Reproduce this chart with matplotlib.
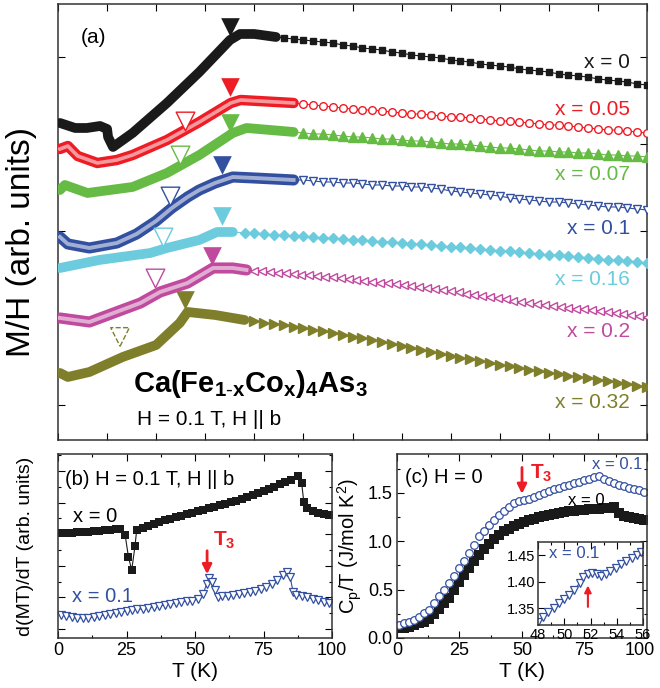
import numpy as np
import matplotlib
matplotlib.use("Agg")
import matplotlib.pyplot as plt
import matplotlib.transforms as mtransforms
from matplotlib.ticker import MultipleLocator, FixedLocator, FormatStrFormatter, NullFormatter

plt.rcParams['font.family'] = ['Liberation Sans', 'DejaVu Sans']
plt.rcParams['mathtext.fontset'] = 'custom'
plt.rcParams['mathtext.rm'] = 'Liberation Sans'
plt.rcParams['mathtext.it'] = 'Liberation Sans:italic'
plt.rcParams['mathtext.bf'] = 'Liberation Sans:bold'

# ---------------- panel (a): M/H vs T, curves offset (arb. units) ----------------
# dense low-T part (overlapping markers -> thick band)
t0_dense = [1, 8.7, 14.7, 21.4, 25, 25.5, 28, 38, 55.5, 72, 87.6, 92.7, 100, 111]
m0_dense = [31.7, 31.2, 31.2, 31.4, 31.1, 30.3, 29.3, 30.7, 33.7, 36.8, 40.0, 40.6, 40.6, 40.3]
t1_dense = [1, 5, 10, 20, 30, 38, 55.5, 72, 88, 93, 120]
m1_dense = [29.1, 29.4, 28.4, 27.7, 28.0, 28.5, 30.0, 31.8, 33.7, 34.0, 33.7]
t2_dense = [1, 3.5, 15, 38, 55.5, 72, 89, 96, 120]
m2_dense = [25.0, 25.5, 24.7, 25.3, 26.7, 28.5, 30.7, 31.2, 30.8]
t3_dense = [1, 5, 16, 30, 40, 50, 58, 66, 72, 80, 89, 100, 120]
m3_dense = [20.3, 19.6, 19.2, 19.7, 20.6, 21.9, 23.2, 24.3, 25.0, 25.7, 26.3, 26.2, 26.0]
t4_dense = [1, 21, 47, 55.5, 72, 81, 89]
m4_dense = [17.2, 18.0, 18.7, 19.2, 20.0, 20.8, 20.8]
t5_dense = [1, 16, 42, 52, 66, 79, 89, 96]
m5_dense = [12.2, 11.8, 13.7, 14.8, 15.7, 17.2, 17.2, 17.0]
t6_dense = [1, 5, 16, 33, 50, 62, 66, 80, 95]
m6_dense = [6.7, 6.3, 6.8, 8.3, 9.5, 11.7, 12.8, 12.5, 12.0]

# sparse high-T part (individual markers)
t0_sparse = np.arange(115, 301, 5)
m0_sparse = [40.2, 40.1, 40.0, 39.9, 39.8, 39.7, 39.5, 39.4, 39.2, 39.1, 39.0, 38.8, 38.7,
             38.5, 38.4, 38.3, 38.2, 38.0, 37.9, 37.8, 37.6, 37.5, 37.4, 37.3, 37.1, 37.0,
             36.9, 36.8, 36.6, 36.5, 36.4, 36.3, 36.1, 36.0, 35.9, 35.8, 35.6, 35.5]
t1_sparse = np.arange(125, 301, 5)
m1_sparse = [33.6, 33.5, 33.4, 33.3, 33.2, 33.1, 33.0, 33.0, 32.9, 32.8, 32.7, 32.6, 32.6,
             32.5, 32.4, 32.3, 32.3, 32.2, 32.1, 32.0, 31.9, 31.9, 31.8, 31.7, 31.6, 31.5,
             31.5, 31.4, 31.3, 31.2, 31.1, 31.0, 31.0, 30.9, 30.8, 30.7]
t2_sparse = np.arange(125, 301, 5)
m2_sparse = [30.7, 30.6, 30.6, 30.5, 30.4, 30.3, 30.3, 30.2, 30.1, 30.1, 30.0, 29.9, 29.9,
             29.8, 29.7, 29.6, 29.6, 29.5, 29.4, 29.3, 29.2, 29.2, 29.1, 29.0, 28.9, 28.9,
             28.8, 28.8, 28.7, 28.7, 28.6, 28.5, 28.5, 28.4, 28.4, 28.3]
t3_sparse = np.arange(125, 301, 5)
m3_sparse = [26.0, 25.9, 25.8, 25.8, 25.7, 25.7, 25.6, 25.5, 25.5, 25.4, 25.4, 25.3, 25.3,
             25.2, 25.1, 24.9, 24.8, 24.7, 24.6, 24.5, 24.4, 24.2, 24.1, 24.0, 23.9, 23.8,
             23.8, 23.7, 23.6, 23.5, 23.4, 23.3, 23.3, 23.2, 23.1, 23.0]
t4_sparse = np.arange(95, 301, 5)
m4_sparse = [20.7, 20.7, 20.6, 20.5, 20.5, 20.4, 20.4, 20.3, 20.2, 20.2, 20.1, 20.0, 20.0,
             19.9, 19.8, 19.8, 19.7, 19.6, 19.6, 19.5, 19.4, 19.3, 19.3, 19.2, 19.1, 19.0,
             18.9, 18.9, 18.8, 18.7, 18.6, 18.5, 18.5, 18.4, 18.3, 18.2, 18.1, 18.0, 18.0,
             17.9, 17.8, 17.7]
t5_sparse = np.arange(100, 301, 4)
m5_sparse = [16.9, 16.9, 16.8, 16.7, 16.7, 16.6, 16.5, 16.5, 16.4, 16.3, 16.3, 16.2, 16.1,
             16.0, 15.9, 15.8, 15.7, 15.7, 15.6, 15.5, 15.4, 15.3, 15.2, 15.1, 15.0, 14.9,
             14.8, 14.6, 14.5, 14.4, 14.3, 14.2, 14.1, 13.9, 13.8, 13.7, 13.6, 13.5, 13.4,
             13.3, 13.2, 13.1, 13.1, 13.0, 12.9, 12.8, 12.7, 12.6, 12.5, 12.4, 12.3]
t6_sparse = np.arange(100, 301, 5)
m6_sparse = [11.9, 11.7, 11.6, 11.5, 11.3, 11.2, 11.0, 10.9, 10.7, 10.5, 10.3, 10.2, 10.0,
             9.8, 9.6, 9.4, 9.2, 9.0, 8.8, 8.6, 8.4, 8.2, 8.1, 7.9, 7.7, 7.5, 7.4, 7.2, 7.0,
             6.9, 6.7, 6.6, 6.4, 6.3, 6.2, 6.0, 5.9, 5.7, 5.6, 5.4, 5.3]

x_labels = ["x = 0", "x = 0.05", "x = 0.07", "x = 0.1", "x = 0.16", "x = 0.2", "x = 0.32"]
x_label_y = [0.865, 0.757, 0.608, 0.486, 0.367, 0.248, 0.085]
colors = ['#1a1a1a', '#ee1c25', '#66bb44', '#3350a0', '#6ccbdc', '#c04a9e', '#7f7f2b']

# transition markers (filled) and lower anomalies (open)
tn_t = [87.6, 87.6, 87.6, 83.5, 83.5, 78.4, 64.7]
tn_m = [41.3, 35.3, 31.7, 27.5, 22.4, 18.4, 14.0]
t3_t = [64.7, 62.1, 57.0, 53.5, 49.4, 31.6]
t3_m = [31.9, 28.5, 24.4, 20.3, 16.2, 10.3]

# ---------------- panel (b): d(MT)/dT ----------------
tb0 = [1, 3, 5, 7, 9, 11, 13, 15, 17, 19, 21, 22.5, 24.5, 25.7, 26.9, 28.1, 28.7,
       31, 33, 35, 37, 39, 41, 43, 45, 47, 49, 51, 53, 55, 57, 59, 61, 63, 65, 67, 69,
       71, 73, 75, 77, 79, 81, 83, 85, 87.7, 88.9, 89.7, 91, 93, 95, 97, 99]
db0 = [10.5, 10.5, 10.5, 10.6, 10.6, 10.6, 10.7, 10.7, 10.8, 10.8, 10.9, 10.9, 10.3, 8.1,
       6.8, 9.2, 10.8, 11.0, 11.2, 11.4, 11.6, 11.8, 11.9, 12.1, 12.2, 12.4, 12.5, 12.7,
       12.8, 13.0, 13.1, 13.3, 13.4, 13.6, 13.7, 13.9, 14.1, 14.3, 14.5, 14.7, 14.9, 15.1,
       15.4, 15.6, 15.8, 16.2, 15.5, 13.6, 13.0, 12.7, 12.5, 12.4, 12.3]
tb1 = [1, 3, 5, 7, 9, 11, 13, 15, 17, 19, 21, 23, 25, 27, 29, 31, 33, 35, 37, 39, 41, 43,
       45, 47, 49, 51, 53, 54.2, 55.2, 56.2, 57.2, 58.4, 60, 62, 64, 66, 68, 70, 72, 74,
       76, 78, 80, 82, 83.5, 84.7, 85.8, 87, 89, 91, 93, 95, 97, 99]
db1 = [2.3, 2.2, 2.1, 2.0, 2.0, 2.0, 2.1, 2.2, 2.3, 2.4, 2.5, 2.6, 2.7, 2.8, 2.9, 2.9, 3.0,
       3.1, 3.2, 3.3, 3.4, 3.5, 3.6, 3.7, 3.7, 3.9, 4.4, 5.4, 6.0, 5.6, 4.8, 4.1, 4.2, 4.2,
       4.3, 4.4, 4.5, 4.6, 4.7, 4.9, 5.1, 5.4, 5.8, 6.3, 6.6, 6.1, 4.6, 4.3, 4.2, 4.1, 3.9,
       3.8, 3.6, 3.5]

# ---------------- panel (c): Cp/T ----------------
tc = np.arange(1, 100, 2)
cp1 = [0.13, 0.15, 0.17, 0.19, 0.22, 0.26, 0.29, 0.36, 0.43, 0.50, 0.57, 0.64, 0.72, 0.79,
       0.88, 0.96, 1.05, 1.11, 1.17, 1.22, 1.27, 1.31, 1.35, 1.39, 1.41, 1.43, 1.44, 1.46,
       1.48, 1.50, 1.52, 1.54, 1.55, 1.57, 1.58, 1.60, 1.61, 1.63, 1.64, 1.66, 1.67, 1.64,
       1.62, 1.60, 1.58, 1.57, 1.55, 1.54, 1.53, 1.51]
cp0 = [0.10, 0.10, 0.11, 0.13, 0.15, 0.17, 0.20, 0.25, 0.30, 0.36, 0.41, 0.50, 0.58, 0.65,
       0.72, 0.79, 0.86, 0.92, 0.97, 1.02, 1.06, 1.10, 1.13, 1.16, 1.18, 1.20, 1.22, 1.23,
       1.25, 1.26, 1.27, 1.28, 1.29, 1.30, 1.31, 1.31, 1.32, 1.32, 1.33, 1.33, 1.33, 1.34,
       1.34, 1.35, 1.29, 1.26, 1.25, 1.24, 1.23, 1.22]
t_in = [48.0, 48.36, 48.74, 49.19, 49.6, 50.0, 50.35, 50.76, 51.17, 51.45, 51.78, 52.14,
        52.47, 52.83, 53.16, 53.5, 53.93, 54.34, 54.7, 55.17, 55.53, 55.86]
cp_in = [1.323, 1.333, 1.342, 1.350, 1.359, 1.367, 1.375, 1.385, 1.397, 1.408, 1.415, 1.417,
         1.415, 1.411, 1.415, 1.420, 1.425, 1.433, 1.439, 1.445, 1.450, 1.457]
tick_T = [0, 25, 50, 75, 100]

RED = '#ee1c25'
BLUE = '#3350a0'
BLACK = '#1a1a1a'


def style_axes(ax, size=13):
    ax.tick_params(which='both', direction='in', top=True, right=True, labelsize=size,
                   width=0.8, pad=3)
    ax.tick_params(which='major', length=5)
    ax.tick_params(which='minor', length=2.5)
    for s in ax.spines.values():
        s.set_linewidth(1.1)
        s.set_color('#333333')


fig = plt.figure(figsize=(6.6, 6.88), dpi=100)

# ---- (a)
ax = fig.add_axes([0.0879, 0.3605, 0.8924, 0.6337])
series = [
    (t0_dense, m0_dense, t0_sparse, m0_sparse, 's', True, 5.0, 7.0),
    (t1_dense, m1_dense, t1_sparse, m1_sparse, 'o', False, 5.5, 7.5),
    (t2_dense, m2_dense, t2_sparse, m2_sparse, '^', True, 6.5, 7.0),
    (t3_dense, m3_dense, t3_sparse, m3_sparse, 'v', False, 6.0, 8.0),
    (t4_dense, m4_dense, t4_sparse, m4_sparse, 'D', True, 5.5, 7.0),
    (t5_dense, m5_dense, t5_sparse, m5_sparse, '<', False, 6.0, 8.0),
    (t6_dense, m6_dense, t6_sparse, m6_sparse, '>', True, 7.0, 7.0),
]
for i, (td, md, ts, ms_, mk, filled, msz, band) in enumerate(series):
    c = colors[i]
    tt = list(td) + list(ts)
    mm = list(md) + list(ms_)
    ax.plot(tt, mm, '-', color=c, lw=0.8, zorder=2)
    ax.plot(td, md, '-', color=c, lw=band, solid_joinstyle='round',
            solid_capstyle='round', zorder=3)
    if not filled:
        ax.plot(td, md, '-', color='white', lw=band * 0.35, alpha=0.55,
                solid_joinstyle='round', zorder=3)
    ax.plot(ts, ms_, mk, color=c, ms=msz, mfc=c if filled else 'white',
            mec=c, mew=1.0, zorder=4)
    ax.text(0.971, x_label_y[i], x_labels[i], color=c, fontsize=15,
            ha='right', va='center', transform=ax.transAxes)

for i in range(7):
    ax.scatter(tn_t[i], tn_m[i], marker='v', s=180, color=colors[i], zorder=5, lw=0)
for i in range(6):
    ax.scatter(t3_t[i], t3_m[i], marker='v', s=180, facecolors='white',
               edgecolors=colors[i + 1], linewidths=1.0, zorder=5,
               linestyle='--' if i == 5 else '-')

ax.set_xlim(0, 300)
ax.set_ylim(0, 43.6)
ax.xaxis.set_major_locator(MultipleLocator(25))
ax.yaxis.set_major_locator(FixedLocator([3.5, 12.2, 20.9, 29.6, 38.3]))
ax.xaxis.set_major_formatter(NullFormatter())
ax.yaxis.set_major_formatter(NullFormatter())
style_axes(ax)
ax.text(0.06, 0.924, "(a)", fontsize=15, ha='center', va='center', transform=ax.transAxes)
ax.text(0.127, 0.110, r"$\mathbf{Ca(Fe_{1\text{-}x}Co_{x})_{4}As_{3}}$", fontsize=21,
        ha='left', va='baseline', transform=ax.transAxes)
ax.text(0.134, 0.046, "H = 0.1 T, H || b", fontsize=15, ha='left', va='center',
        transform=ax.transAxes)
fig.text(22 / 660, 1 - 242 / 688, "M/H (arb. units)", rotation=90, fontsize=24,
         ha='center', va='center')

# ---- (b)
axb = fig.add_axes([0.0879, 0.0727, 0.4152, 0.2674])
axb.plot(tb0, db0, '-', color=BLACK, lw=0.8)
axb.plot(tb0, db0, 's', color=BLACK, ms=6, mew=0)
axb.plot(tb1, db1, '-', color=BLUE, lw=0.8)
axb.plot(tb1, db1, 'v', color=BLUE, ms=6, mfc='white', mew=0.9)
axb.set_xlim(0, 100)
axb.set_ylim(0, 18.4)
axb.set_xticks(tick_T, [str(t) for t in tick_T])
axb.xaxis.set_minor_locator(MultipleLocator(12.5))
axb.yaxis.set_major_locator(FixedLocator(np.arange(0.9, 18.4, 3.16)))
axb.yaxis.set_minor_locator(FixedLocator(np.arange(2.48, 18.4, 3.16)))
axb.yaxis.set_major_formatter(NullFormatter())
style_axes(axb)
axb.set_xlabel("T (K)", fontsize=15, labelpad=2)
axb.set_ylabel("d(MT)/dT (arb. units)", fontsize=14, labelpad=14)
axb.text(0.026, 0.859, "(b) H = 0.1 T, H || b", fontsize=14.5, ha='left', va='center',
         transform=axb.transAxes)
axb.text(0.055, 0.658, "x = 0", fontsize=14.5, ha='left', va='center', transform=axb.transAxes)
axb.text(0.051, 0.223, "x = 0.1", fontsize=14.5, color=BLUE, ha='left', va='center',
         transform=axb.transAxes)
axb.text(0.566, 0.533, r"$\mathbf{T_3}$", fontsize=15, color=RED, ha='left', va='center',
         transform=axb.transAxes)
axb.annotate('', xy=(54.4, 6.1), xytext=(54.4, 9.0),
             arrowprops=dict(arrowstyle='-|>', color=RED, lw=2, mutation_scale=14))

# ---- (c)
axc = fig.add_axes([0.6015, 0.0727, 0.3788, 0.2674])
axc.plot(tc, cp0, 's', color=BLACK, ms=6.5, mew=0)
axc.plot(tc, cp1, 'o', color=BLUE, ms=5.5, mfc='white', mew=0.9)
axc.set_xlim(0, 100)
axc.set_ylim(0, 1.9)
axc.set_xticks(tick_T, [str(t) for t in tick_T])
axc.xaxis.set_minor_locator(MultipleLocator(12.5))
axc.yaxis.set_major_locator(MultipleLocator(0.5))
axc.yaxis.set_minor_locator(MultipleLocator(0.25))
axc.yaxis.set_major_formatter(FormatStrFormatter('%.1f'))
style_axes(axc)
# keep the "100" label inside the figure
last = axc.get_xticklabels()[-1]
last.set_transform(last.get_transform() +
                   mtransforms.ScaledTranslation(-5 / 72, 0, fig.dpi_scale_trans))
axc.set_xlabel("T (K)", fontsize=15, labelpad=2)
axc.set_ylabel(r"C$_\mathregular{p}$/T (J/mol K$^\mathregular{2}$)", fontsize=14.5, labelpad=3)
axc.text(0.032, 0.870, "(c) H = 0", fontsize=14.5, ha='left', va='center',
         transform=axc.transAxes)
axc.text(0.98, 0.945, "x = 0.1", fontsize=12, color=BLUE, ha='right', va='center',
         transform=axc.transAxes)
axc.text(0.684, 0.750, "x = 0", fontsize=12, ha='left', va='center', transform=axc.transAxes)
axc.text(0.532, 0.897, r"$\mathbf{T_3}$", fontsize=15, color=RED, ha='left', va='center',
         transform=axc.transAxes)
axc.annotate('', xy=(50, 1.46), xytext=(50, 1.79),
             arrowprops=dict(arrowstyle='-|>', color=RED, lw=2, mutation_scale=14))

# ---- inset
axi = fig.add_axes([0.8152, 0.0916, 0.1591, 0.1206])
axi.plot(t_in, cp_in, '-', color=BLUE, lw=0.8)
axi.plot(t_in, cp_in, 'v', color=BLUE, ms=6, mfc='white', mew=0.9)
axi.set_xlim(48, 56)
axi.set_ylim(1.318, 1.475)
axi.xaxis.set_major_locator(MultipleLocator(2))
axi.xaxis.set_minor_locator(MultipleLocator(1))
axi.yaxis.set_major_locator(FixedLocator([1.35, 1.40, 1.45]))
axi.yaxis.set_major_formatter(FormatStrFormatter('%.2f'))
style_axes(axi, size=10.5)
axi.tick_params(which='both', pad=2)
axi.text(0.105, 0.867, "x = 0.1", fontsize=12, color=BLUE, ha='left', va='center',
         transform=axi.transAxes)
axi.annotate('', xy=(51.8, 1.398), xytext=(51.8, 1.347),
             arrowprops=dict(arrowstyle='-|>', color=RED, lw=1.5, mutation_scale=10))

fig.savefig("out.png", dpi=100)
plt.close(fig)
